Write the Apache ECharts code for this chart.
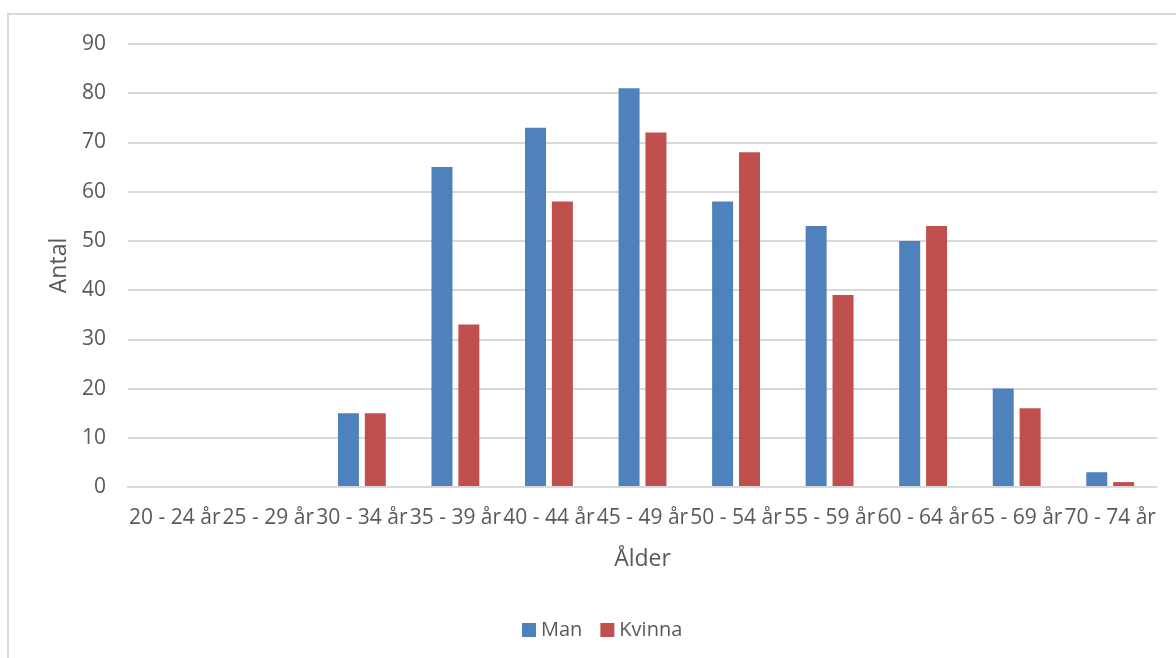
<!DOCTYPE html>
<html>
<head>
<meta charset="utf-8">
<script src="https://cdn.jsdelivr.net/npm/echarts@6/dist/echarts.min.js"></script>
<style>
  html, body { margin: 0; padding: 0; background: #fff; }
  #chart { width: 1176px; height: 658px; }
</style>
</head>
<body>
<div id="chart"></div>
<script>
// Age groups and head counts per sex
const categories = ['20 - 24 år', '25 - 29 år', '30 - 34 år', '35 - 39 år', '40 - 44 år', '45 - 49 år',
  '50 - 54 år', '55 - 59 år', '60 - 64 år', '65 - 69 år', '70 - 74 år'];
const man = [0, 0, 15, 65, 73, 81, 58, 53, 50, 20, 3];
const kvinna = [0, 0, 15, 33, 58, 72, 68, 39, 53, 16, 1];
const seriesNames = ['Man', 'Kvinna'];
const colors = ['#4f81bd', '#c0504d'];

const font = '"Open Sans", "Noto Sans", sans-serif';
const textColor = '#595959';

const chart = echarts.init(document.getElementById('chart'), null, { renderer: 'canvas' });
chart.setOption({
  animation: false,
  color: colors,
  textStyle: { fontFamily: font },
  graphic: [{
    type: 'rect',
    shape: { x: 8, y: 14, width: 1180, height: 660 },
    style: { fill: 'none', stroke: '#d9d9d9', lineWidth: 2 },
    silent: true
  }],
  grid: { left: 128, right: 19, top: 44, bottom: 171, containLabel: false },
  legend: {
    data: seriesNames,
    top: 615,
    left: 517,
    itemWidth: 14,
    itemHeight: 14,
    itemGap: 18,
    icon: 'rect',
    textStyle: { color: textColor, fontSize: 20, fontFamily: font }
  },
  xAxis: {
    type: 'category',
    data: categories,
    name: 'Ålder',
    nameLocation: 'middle',
    nameGap: 61,
    nameTextStyle: { color: textColor, fontSize: 23, fontFamily: font },
    axisLine: { lineStyle: { color: '#d9d9d9', width: 2 } },
    axisTick: { show: false },
    axisLabel: { color: textColor, fontSize: 21, margin: 21, interval: 0, fontFamily: font },
    z: 3
  },
  yAxis: {
    type: 'value',
    min: 0,
    max: 90,
    interval: 10,
    name: 'Antal',
    nameLocation: 'middle',
    nameGap: 56,
    nameRotate: 90,
    nameTextStyle: { color: textColor, fontSize: 23, fontFamily: font },
    axisLine: { show: false },
    axisTick: { show: false },
    axisLabel: { color: textColor, fontSize: 21, margin: 22, fontFamily: font },
    splitLine: { lineStyle: { color: '#d9d9d9', width: 2 } }
  },
  series: [
    { name: seriesNames[0], type: 'bar', data: man, barWidth: 21, barGap: '28%' },
    { name: seriesNames[1], type: 'bar', data: kvinna, barWidth: 21, barGap: '28%' }
  ]
});
</script>
</body>
</html>
